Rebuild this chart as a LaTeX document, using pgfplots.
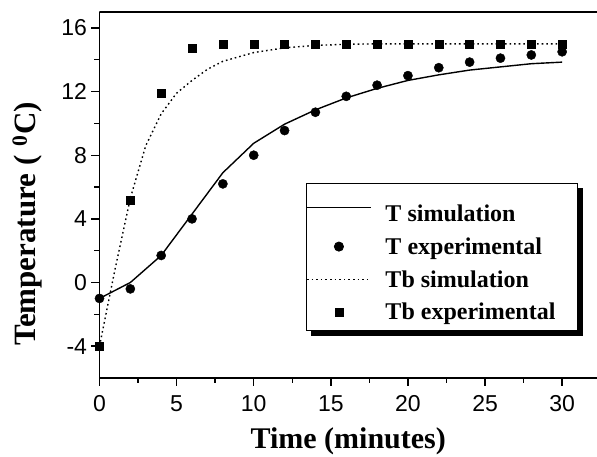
\documentclass[border=0pt]{standalone}
\usepackage{pgfplots}
\pgfplotsset{compat=1.18}
\usepackage{fontspec}
\setmainfont{Liberation Serif}
\newfontfamily\arialf{Liberation Sans}
\begin{document}
\begin{tikzpicture}
\begin{axis}[
  scale only axis,
  width=497.5pt, height=366pt,
  xmin=0, xmax=32.26, ymin=-6, ymax=17,
  axis lines*=left,
  axis line style={line width=1.6pt, -},
  xtick={0,5,...,30}, minor xtick={2.5,7.5,...,27.5},
  ytick={-4,0,4,8,12,16}, minor ytick={-2,2,6,10,14},
  tick align=outside,
  major tick length=8pt, minor tick length=5pt,
  every tick/.style={line width=1.4pt, black},
  /pgf/number format/assume math mode=true,
  ticklabel style={font=\arialf\fontsize{23}{23}\selectfont},
  xticklabel style={yshift=-6pt},
  yticklabel style={xshift=-1pt},
  xlabel={Time (minutes)},
  ylabel={Temperature (\hspace{0.3em}\textsuperscript{0}C)},
  xlabel style={font=\fontsize{30}{30}\selectfont\bfseries, at={(rel axis cs:0.5,0)}, anchor=center, yshift=-63pt},
  ylabel style={font=\fontsize{31}{31}\selectfont\bfseries, at={(rel axis cs:-0.145,0.421)}, anchor=center},
  legend style={at={(rel axis cs:0.415,0.533)}, anchor=north west, name=leg,
    draw=black, line width=0.8pt, fill=white,
    font=\fontsize{24}{24}\selectfont\bfseries,
    inner xsep=0pt, inner ysep=7pt, row sep=10.7pt, column sep=12pt},
  legend cell align=left,
  legend image code/.code={\draw[mark repeat=2,mark phase=2,#1] plot coordinates {(0cm,0cm) (1.12cm,0cm) (2.24cm,0cm)};},
]
\addplot[black, line width=1.4pt] coordinates {
(0,-1.0) (2,0.0) (4,1.7) (6,4.3) (8,6.9) (10,8.75) (12,9.95) (14,10.85) (16,11.6) (18,12.2) (20,12.7) (22,13.05) (24,13.35) (26,13.55) (28,13.75) (30,13.85)};
\addlegendentry{\rule{0pt}{29pt}T simulation}
\addplot[only marks, mark=*, mark size=4.6pt, black] coordinates {
(0,-1.0) (2,-0.4) (4,1.7) (6,4.0) (8,6.2) (10,8.0) (12,9.55) (14,10.7) (16,11.7) (18,12.4) (20,13.0) (22,13.5) (24,13.85) (26,14.1) (28,14.3) (30,14.5)};
\addlegendentry{T experimental}
\addplot[black, line width=1.4pt, dash pattern=on 1.6pt off 3pt] coordinates {
(0,-4) (1,0.8) (2,5.3) (3,8.6) (4,10.6) (5,11.9) (6,12.7) (7,13.4) (8,13.9) (10,14.45) (12,14.75) (14,14.9) (16,14.97) (18,15) (20,15) (22,15) (24,15) (26,15) (28,15) (30,15)};
\addlegendentry{Tb simulation}
\addplot[only marks, mark=square*, mark size=4pt, black] coordinates {
(0,-4) (2,5.2) (4,11.9) (6,14.7) (8,15.0) (10,15.0) (12,15.0) (14,15.0) (16,15.0) (18,15.0) (20,15.0) (22,15.0) (24,15.0) (26,15.0) (28,15.0) (30,15.0)};
\addlegendentry{\rule[-14pt]{0pt}{14pt}Tb experimental\rule{20pt}{0pt}}
\draw[line width=1.6pt] (rel axis cs:0,1) -- (rel axis cs:1,1);
\end{axis}
\fill[black] ([shift={(0.4pt,-5pt)}]leg.north east) rectangle ([shift={(5pt,-5pt)}]leg.south east);
\fill[black] ([shift={(5pt,-0.4pt)}]leg.south west) rectangle ([shift={(5pt,-5pt)}]leg.south east);
\pgfresetboundingbox
\path ([shift={(-99.5pt,-79pt)}]current axis.south west) rectangle ([shift={(0pt,12pt)}]current axis.north east);
\end{tikzpicture}
\end{document}
